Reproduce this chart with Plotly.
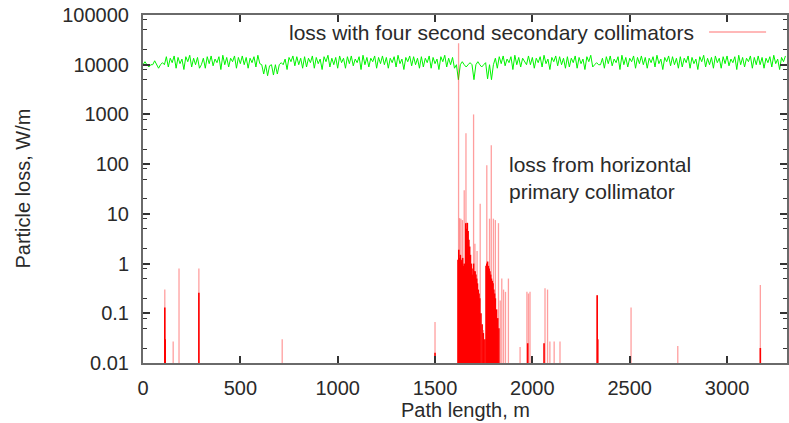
import plotly.graph_objects as go

# ---------------- data ----------------
# green reference line (sampled every 10 m along the path)
green_x = list(range(0, 3301, 10))
green_y = [
    # 0-110
    10000, 11500, 10000, 9000, 10000, 10000, 12000, 10000, 8500, 10000, 11000, 10000,
    # 120-290
    14500, 9000, 13500, 11000, 15000, 8500, 14000, 10500, 13000, 8000, 14500, 11500, 15500, 9000, 13500, 10000, 14000, 8500,
    # 300
    10000,
    # 310-600
    13500, 8500, 14500, 10500, 15000, 9500, 13000, 11000, 14500, 8000, 15500, 10000, 14000, 9000, 13500,
    11500, 15000, 8500, 14000, 10500, 15000, 10000, 14000, 8500, 13500, 11000, 14500, 9000, 15500, 10500,
    # 610-720
    10000, 6500, 10000, 6000, 9500, 10000, 6200, 10000, 6500, 10000, 11000, 10000,
    # 730-1600
    13000, 8000, 14000, 11500, 15000, 9500, 14500, 10000, 13500, 8500,
    14500, 9000, 13500, 11000, 15000, 8500, 14000, 10500, 13000, 8000,
    14500, 11500, 15500, 9000, 13500, 10000, 14000, 8500, 15000, 11000,
    13500, 8500, 14500, 10500, 15000, 9500, 13000, 11000, 14500, 8000,
    15500, 10000, 14000, 9000, 13500, 11500, 15000, 8500, 14000, 10500,
    15000, 10000, 14000, 8500, 13500, 11000, 14500, 9000, 15500, 10500,
    13000, 8000, 14000, 11500, 15000, 9500, 14500, 10000, 13500, 8500,
    14500, 9000, 13500, 11000, 15000, 8500, 14000, 10500, 13000, 8000,
    14500, 11500, 15500, 9000, 13500, 10000, 14000, 8500,
    # 1610-1800
    10000, 5000, 10000, 11500, 10000, 9000, 10000, 11000, 10000, 5000,
    10000, 11500, 10000, 9000, 10000, 11000, 5200, 10000, 5000, 10000,
    # 1810-1960
    13500, 8500, 14500, 10500, 15000, 9500, 13000, 11000, 14500, 8000, 15500, 10000, 14000, 9000, 13500, 11500,
    # 1970
    10000,
    # 1980-2310
    15000, 10000, 14000, 8500, 13500, 11000, 14500, 9000, 15500, 10500,
    13000, 8000, 14000, 11500, 15000, 9500, 14500, 10000, 13500, 8500,
    14500, 9000, 13500, 11000, 15000, 8500, 14000, 10500, 13000, 8000,
    14500, 11500, 15500, 9000,
    # 2320-2350
    10000, 11000, 10000, 10000,
    # 2360-3140
    13500, 8500, 14500, 10500, 15000, 9500, 13000, 11000, 14500, 8000,
    15500, 10000, 14000, 9000, 13500, 11500, 15000, 8500, 14000, 10500,
    15000, 10000, 14000, 8500, 13500, 11000, 14500, 9000, 15500, 10500,
    13000, 8000, 14000, 11500, 15000, 9500, 14500, 10000, 13500, 8500,
    14500, 9000, 13500, 11000, 15000, 8500, 14000, 10500, 13000, 8000,
    14500, 11500, 15500, 9000, 13500, 10000, 14000, 8500, 15000, 11000,
    13500, 8500, 14500, 10500, 15000, 9500, 13000, 11000, 14500, 8000,
    15500, 10000, 14000, 9000, 13500, 11500, 15000, 8500, 14000,
    # 3150
    10000,
    # 3160-3300
    15000, 10000, 14000, 8500, 13500, 11000, 14500, 9000, 15500, 10500, 13000, 8000, 14000, 11500, 15000,
]

# loss spikes (W/m) – tall, faint impulses
pale_x = [112, 155, 185, 287, 715, 1500, 1621, 1626, 1633, 1641, 1650, 1659, 1666, 1698, 1705, 1716,
          1732, 1749, 1766, 1780, 1789, 1800, 1810, 1826, 1835, 1843, 1852, 1862, 1877, 1937, 1972,
          1980, 1988, 2065, 2078, 2090, 2112, 2142, 2333, 2507, 2747, 3171]
pale_y = [0.3, 0.027, 0.8, 0.8, 0.03, 0.067, 27000, 8.2, 8.0, 7.5, 30, 420, 3.0, 1000, 2.5, 1.8,
          16, 0.046, 95, 8, 240, 8, 7.5, 6.5, 0.18, 0.5, 0.3, 0.27, 0.5, 0.021, 0.27,
          0.25, 0.27, 0.32, 0.3, 0.027, 0.027, 0.027, 0.23, 0.13, 0.022, 0.37]

# loss spikes (W/m) – dense, solid impulses
solid_x = [112, 114, 287, 1500,
           1618, 1622, 1626, 1630, 1634, 1638, 1642, 1646, 1650, 1654,
           1658, 1662, 1666, 1670, 1674, 1678, 1682, 1686, 1690, 1694,
           1698, 1702, 1706, 1710, 1714, 1718, 1722, 1726, 1730,
           1736, 1742, 1748, 1756,
           1762, 1766, 1770, 1774, 1778, 1782, 1786, 1790, 1794, 1798, 1802, 1806, 1810,
           1816, 1822, 1828,
           1976, 2060, 2333, 2336, 3171]
solid_y = [0.13, 0.03, 0.26, 0.016,
           1.2, 1.9, 1.3, 1.5, 1.2, 1.1, 1.3, 0.9, 1.0, 0.8,
           6.5, 5.0, 6.6, 4.5, 3.0, 2.2, 1.5, 1.0, 0.8, 0.6,
           1.0, 0.7, 0.7, 0.6, 0.5, 0.4, 0.3, 0.25, 0.2,
           0.1, 0.06, 0.04, 0.03,
           0.9, 1.0, 1.1, 0.9, 0.8, 0.7, 0.6, 0.5, 0.45, 0.4, 0.3, 0.25, 0.2,
           0.12, 0.08, 0.05,
           0.025, 0.025, 0.23, 0.03, 0.02]

y_tick_vals = [0.01, 0.1, 1, 10, 100, 1000, 10000, 100000]
y_tick_text = ["0.01", "0.1", "1", "10", "100", "1000", "10000", "100000"]
x_tick_vals = [0, 500, 1000, 1500, 2000, 2500, 3000]
y_minor_vals = [m * d for d in [0.01, 0.1, 1, 10, 100, 1000, 10000] for m in (2, 5, 8)]

legend_text = "loss with four second secondary collimators"
note_text = "loss from horizontal<br>primary collimator"
x_title = "Path length, m"
y_title = "Particle loss, W/m"

BASE = 0.01  # bottom of the log axis, impulses start here


def impulses(xs, ys):
    px, py = [], []
    for x, y in zip(xs, ys):
        px += [x, x, None]
        py += [BASE, y, None]
    return px, py


FONT = "Liberation Sans, Arial, sans-serif"
TXT = "#2a2a2a"

fig = go.Figure()

fig.add_trace(go.Scatter(x=green_x, y=green_y, mode="lines",
                         line=dict(color="rgb(0,245,0)", width=1), showlegend=False,
                         hoverinfo="skip"))

px, py = impulses(pale_x, pale_y)
fig.add_trace(go.Scatter(x=px, y=py, mode="lines",
                         line=dict(color="rgba(255,0,0,0.38)", width=1.3), showlegend=False))

sx, sy = impulses(solid_x, solid_y)
fig.add_trace(go.Scatter(x=sx, y=sy, mode="lines",
                         line=dict(color="rgb(255,0,0)", width=1.6), showlegend=False))

axis_common = dict(
    showline=True, linecolor="#6a6a6a", linewidth=2,
    ticks="inside", tickcolor="#333", tickwidth=1.5, ticklen=7,
    mirror="allticks", showgrid=False, zeroline=False,
    tickfont=dict(family=FONT, size=20, color=TXT),
)

fig.update_xaxes(range=[0, 3308], tickvals=x_tick_vals, ticklabelstandoff=6, **axis_common)
fig.update_yaxes(type="log", range=[-2, 5], tickvals=y_tick_vals, ticktext=y_tick_text,
                 ticklabelstandoff=8,
                 minor=dict(tickvals=y_minor_vals, ticks="inside", ticklen=4,
                            tickcolor="#333", tickwidth=1),
                 **axis_common)

fig.add_annotation(text=legend_text, xref="paper", yref="paper", x=0.859, y=0.951,
                   xanchor="right", yanchor="middle", showarrow=False,
                   font=dict(family=FONT, size=21, color=TXT))
fig.add_shape(type="line", xref="paper", yref="paper", x0=0.879, x1=0.9675, y0=0.951, y1=0.951,
              line=dict(color="rgb(255,160,160)", width=1.5))

fig.add_annotation(text=note_text, xref="paper", yref="paper", x=0.565, y=0.533,
                   xanchor="left", yanchor="middle", align="left", showarrow=False,
                   font=dict(family=FONT, size=21, color=TXT))

fig.add_annotation(text=y_title, xref="paper", yref="paper", x=-0.187, y=0.5,
                   xanchor="center", yanchor="middle", textangle=-90, showarrow=False,
                   font=dict(family=FONT, size=20, color=TXT))
fig.add_annotation(text=x_title, xref="paper", yref="paper", x=0.5015, y=-0.136,
                   xanchor="center", yanchor="middle", showarrow=False,
                   font=dict(family=FONT, size=20, color=TXT))

fig.update_layout(
    width=789, height=423,
    margin=dict(l=143, r=0, t=15, b=60),
    paper_bgcolor="white", plot_bgcolor="white",
    showlegend=False,
    font=dict(family=FONT, color=TXT),
)

fig.write_html("out.html")
